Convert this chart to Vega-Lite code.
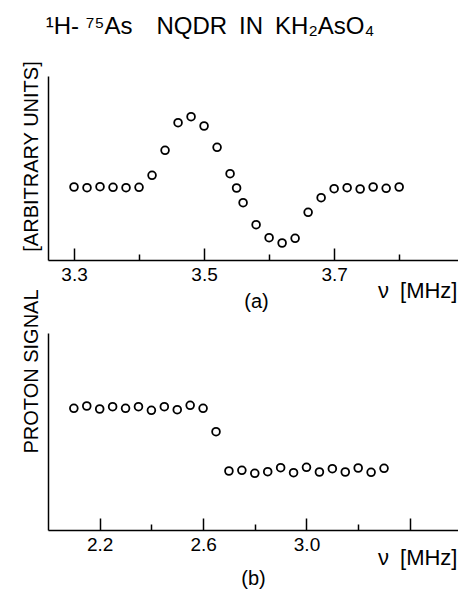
{
  "$schema": "https://vega.github.io/schema/vega-lite/v6.json",
  "padding": {"left": 20, "top": 14, "right": 0, "bottom": 0},
  "background": "white",
  "title": {
    "text": "¹H- ⁷⁵As\u2003NQDR\u2002IN\u2002KH₂AsO₄",
    "fontSize": 24,
    "fontWeight": "normal",
    "font": "Liberation Sans",
    "color": "black",
    "anchor": "middle",
    "dx": -30,
    "offset": 22
  },
  "datasets": {
    "a": [
      {"f": 3.30, "s": 73}, {"f": 3.32, "s": 72.3}, {"f": 3.34, "s": 73.3}, {"f": 3.36, "s": 72.7},
      {"f": 3.38, "s": 72.3}, {"f": 3.40, "s": 72.7}, {"f": 3.42, "s": 84.7}, {"f": 3.44, "s": 109.7},
      {"f": 3.46, "s": 137.3}, {"f": 3.48, "s": 143.3}, {"f": 3.50, "s": 134}, {"f": 3.52, "s": 112.7},
      {"f": 3.54, "s": 86.3}, {"f": 3.55, "s": 72}, {"f": 3.56, "s": 57.3}, {"f": 3.58, "s": 35.3},
      {"f": 3.60, "s": 22.3}, {"f": 3.62, "s": 17}, {"f": 3.64, "s": 21.7}, {"f": 3.66, "s": 47.7},
      {"f": 3.68, "s": 62.3}, {"f": 3.70, "s": 71.3}, {"f": 3.72, "s": 72.3}, {"f": 3.74, "s": 71},
      {"f": 3.76, "s": 73}, {"f": 3.78, "s": 71.7}, {"f": 3.80, "s": 73}
    ],
    "b": [
      {"f": 2.10, "s": 121.7}, {"f": 2.15, "s": 124}, {"f": 2.20, "s": 121}, {"f": 2.25, "s": 123.3},
      {"f": 2.30, "s": 121.7}, {"f": 2.35, "s": 123.3}, {"f": 2.40, "s": 119.7}, {"f": 2.45, "s": 123.3},
      {"f": 2.50, "s": 120.3}, {"f": 2.55, "s": 124.7}, {"f": 2.60, "s": 121.7}, {"f": 2.65, "s": 98.3},
      {"f": 2.70, "s": 59}, {"f": 2.75, "s": 59.7}, {"f": 2.80, "s": 56.7}, {"f": 2.85, "s": 58.3},
      {"f": 2.90, "s": 62.3}, {"f": 2.95, "s": 57.3}, {"f": 3.00, "s": 62.7}, {"f": 3.05, "s": 58},
      {"f": 3.10, "s": 61.3}, {"f": 3.15, "s": 58}, {"f": 3.20, "s": 62}, {"f": 3.25, "s": 57.7},
      {"f": 3.30, "s": 61.7}
    ]
  },
  "bounds": "flush",
  "spacing": 73,
  "vconcat": [
    {
      "width": 411,
      "height": 184,
      "data": {"name": "a"},
      "title": {"text": "(a)", "orient": "bottom", "anchor": "middle", "fontSize": 20, "fontWeight": "normal", "offset": -9, "dx": 3},
      "resolve": {"axis": {"x": "independent"}},
      "layer": [
        {
          "mark": {"type": "point", "filled": false, "color": "black", "size": 60, "strokeWidth": 1.8, "opacity": 1},
          "encoding": {
            "x": {
              "field": "f", "type": "quantitative",
              "scale": {"domain": [3.26, 3.892], "nice": false, "zero": false},
              "axis": {
                "orient": "bottom",
                "title": "ν\u2002[MHz]",
                "values": [3.3, 3.5, 3.7],
                "format": ".1f",
                "ticks": true,
                "tickSize": -12,
                "zindex": 1,
                "labelFontSize": 19,
                "labelPadding": 17,
                "labelFlush": false,
                "titleFontSize": 22,
                "titleAnchor": "end",
                "titleAlign": "right",
                "titleX": 409,
                "titleY": 37,
                "titleBaseline": "alphabetic"
              }
            },
            "y": {
              "field": "s", "type": "quantitative",
              "scale": {"domain": [0, 184], "nice": false, "zero": false},
              "axis": {
                "title": "[ARBITRARY UNITS]",
                "ticks": false, "labels": false,
                "titleFontSize": 20,
                "titlePadding": 7,
                "titleY": 80,
                "titleAlign": "center"
              }
            }
          }
        },
        {
          "mark": {"type": "point", "filled": false, "color": "black", "size": 60, "opacity": 0},
          "encoding": {
            "x": {
              "field": "f", "type": "quantitative",
              "axis": {
                "orient": "bottom",
                "title": null,
                "values": [3.4, 3.6, 3.8],
                "labels": false,
                "domain": false,
                "ticks": true,
                "zindex": 1,
                "tickSize": -6
              }
            },
            "y": {"field": "s", "type": "quantitative"}
          }
        }
      ]
    },
    {
      "width": 411,
      "height": 197,
      "data": {"name": "b"},
      "title": {"text": "(b)", "orient": "bottom", "anchor": "middle", "fontSize": 20, "fontWeight": "normal", "offset": 1, "dx": 0},
      "resolve": {"axis": {"x": "independent"}},
      "layer": [
        {
          "mark": {"type": "point", "filled": false, "color": "black", "size": 60, "strokeWidth": 1.8, "opacity": 1},
          "encoding": {
            "x": {
              "field": "f", "type": "quantitative",
              "scale": {"domain": [2.0, 3.59], "nice": false, "zero": false},
              "axis": {
                "orient": "bottom",
                "title": "ν\u2002[MHz]",
                "values": [2.2, 2.6, 3.0, 3.4],
                "format": ".1f",
                "labelExpr": "indexof([22,26,30], round(datum.value*10)) >= 0 ? datum.label : ''",
                "ticks": true,
                "zindex": 1,
                "tickSize": -12,
                "labelFontSize": 19,
                "labelPadding": 17,
                "labelFlush": false,
                "titleFontSize": 22,
                "titleAnchor": "end",
                "titleAlign": "right",
                "titleX": 409,
                "titleY": 34,
                "titleBaseline": "alphabetic"
              }
            },
            "y": {
              "field": "s", "type": "quantitative",
              "scale": {"domain": [0, 197], "nice": false, "zero": false},
              "axis": {
                "title": "PROTON SIGNAL",
                "ticks": false, "labels": false,
                "titleFontSize": 20,
                "titlePadding": 7,
                "titleY": 38,
                "titleAlign": "center"
              }
            }
          }
        },
        {
          "mark": {"type": "point", "filled": false, "color": "black", "size": 60, "opacity": 0},
          "encoding": {
            "x": {
              "field": "f", "type": "quantitative",
              "axis": {
                "orient": "bottom",
                "title": null,
                "values": [2.4, 2.8, 3.2],
                "labels": false,
                "domain": false,
                "ticks": true,
                "zindex": 1,
                "tickSize": -6
              }
            },
            "y": {"field": "s", "type": "quantitative"}
          }
        }
      ]
    }
  ],
  "config": {
    "font": "Liberation Sans",
    "view": {"stroke": null},
    "axis": {
      "domainColor": "black",
      "domainWidth": 1.5,
      "tickColor": "black",
      "tickWidth": 1.5,
      "labelColor": "black",
      "titleColor": "black",
      "grid": false,
      "labelFontWeight": "normal",
      "titleFontWeight": "normal"
    },
    "title": {"color": "black", "font": "Liberation Sans"}
  }
}
